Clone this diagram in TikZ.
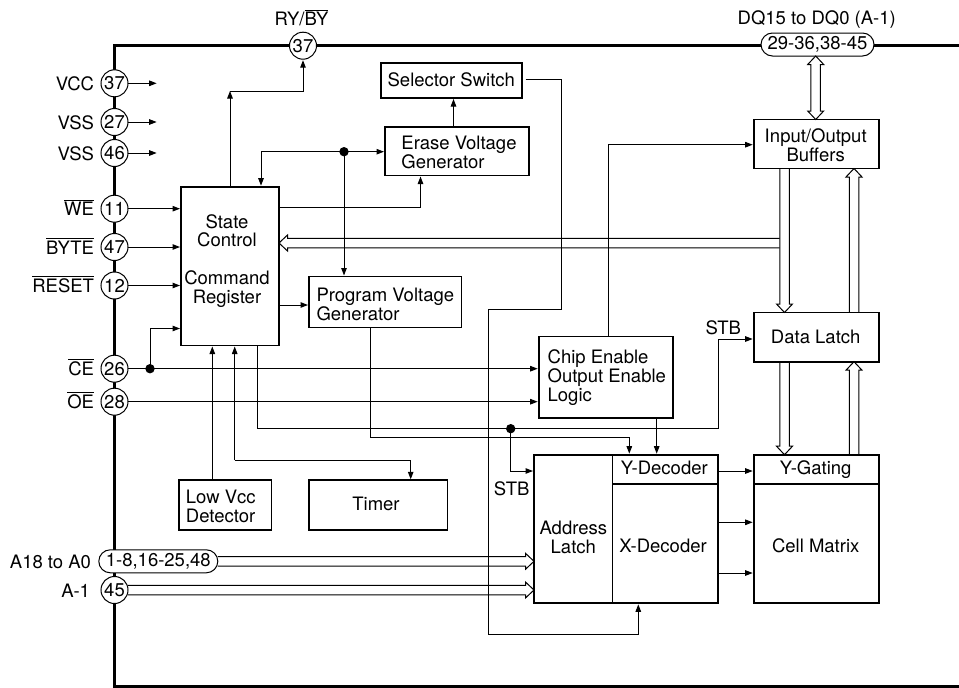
\documentclass[tikz,border=0pt]{standalone}
\usepackage{fontspec}
\setmainfont{TeX Gyre Heros}
\usetikzlibrary{arrows.meta,calc,shapes.misc}
\newcommand\olb[1]{\leavevmode\vbox{\hrule height .8pt \kern 1.6pt \hbox{#1}}}
\tikzset{
  txt/.style={font=\fontsize{18.5}{18.7}\selectfont,inner sep=0pt,outer sep=0pt},
  lbl/.style={txt,anchor=base,align=center},
  lbll/.style={txt,anchor=base,align=left},
  plbl/.style={txt,anchor=base east},
  blk/.style={draw,line width=1.9pt,inner sep=0pt,outer sep=0pt,anchor=north west},
  pinc/.style={txt,circle,draw,fill=white,line width=1pt,minimum size=27pt},
  pill/.style={txt,rounded rectangle,draw,fill=white,line width=1pt,minimum height=23pt},
  frame/.style={line width=2.7pt},
  inner/.style={line width=1.2pt},
  wire/.style={line width=1pt},
  conn/.style={line width=1pt,-{Triangle[length=7.5pt,width=5.5pt]},shorten >=1pt},
  hol/.style={line width=1pt,line join=miter},
}
% box from top-left to bottom-right
\newcommand\bx[5]{\node[blk,minimum width={(#4-#2)*1pt},minimum height={(#5-#3)*1pt}] (#1) at (#2,#3) {};}
% left-hand pin with circle and label
\newcommand\lpin[4]{\node[pinc] (#1) at (114.5,#2) {#3};
  \node[plbl] (#1L) at (94,#2+7) {#4};}
% hollow bus arrow from #1 to tip #2
\newcommand\hollow[2]{%
  \coordinate (hA) at (#1); \coordinate (hB) at (#2);
  \coordinate (hC) at ($(hB)!8.5pt!(hA)$);
  \draw[hol] ($(hA)!4.75pt!90:(hB)$) -- ($(hC)!4.75pt!-90:(hA)$) -- ($(hC)!8pt!-90:(hA)$) -- (hB)
    -- ($(hC)!8pt!90:(hA)$) -- ($(hC)!4.75pt!90:(hA)$) -- ($(hA)!4.75pt!-90:(hB)$);}
% hollow bus arrow with tips at both ends
\newcommand\hollowtwo[2]{%
  \coordinate (hA) at (#1); \coordinate (hB) at (#2);
  \coordinate (hC) at ($(hB)!8.5pt!(hA)$); \coordinate (hD) at ($(hA)!8.5pt!(hB)$);
  \draw[hol] (hA) -- ($(hD)!8pt!90:(hB)$) -- ($(hD)!4.75pt!90:(hB)$) -- ($(hC)!4.75pt!-90:(hA)$) -- ($(hC)!8pt!-90:(hA)$) -- (hB)
    -- ($(hC)!8pt!90:(hA)$) -- ($(hC)!4.75pt!90:(hA)$) -- ($(hD)!4.75pt!-90:(hB)$) -- ($(hD)!8pt!-90:(hB)$) -- cycle;}
\begin{document}
\begin{tikzpicture}[x=1pt,y=-1pt]
\useasboundingbox (0,0) rectangle (959,688);
% frame
\draw[frame] (959,45.7) -- (114.2,45.7) -- (114.2,686.4) -- (959,686.4);

% pins
\node[pinc] (ry) at (303,45.7) {37};
\node[lbl] (ryL) at (301.5,25.7) {RY/\olb{BY}};
\node[pill,minimum width=113pt] (dq) at (817.5,44.5) {29-36,38-45};
\node[lbl] (dqL) at (816.7,24) {DQ15 to DQ0 (A-1)};
\lpin{vcc}{83.3}{37}{VCC}
\lpin{vssa}{122}{27}{VSS}
\lpin{vssb}{153}{46}{VSS}
\lpin{we}{208.7}{11}{\olb{WE}}
\lpin{byte}{247}{47}{\olb{BYTE}}
\lpin{reset}{285.5}{12}{\olb{RESET}}
\lpin{ce}{368.7}{26}{\olb{CE}}
\lpin{oe}{401.7}{28}{\olb{OE}}
\node[pill,minimum width=119pt] (addr) at (158.3,561.3) {1-8,16-25,48};
\node[plbl] (addrL) at (91,568.3) {A18 to A0};
\node[pinc] (am) at (114.5,590) {45};
\node[plbl] (amL) at (90,597) {A-1};

% blocks
\bx{state}{181}{186.7}{279}{345.5}
\node[lbl] (stateT) at (227,303) {State\\Control\\[18.7pt]Command\\Register};
\bx{sel}{381}{63}{522.3}{98}
\node[lbl] (selT) at (451.3,86.3) {Selector Switch};
\bx{erase}{385}{126.7}{529}{175.5}
\node[lbll] (eraseT) at (459,168) {Erase Voltage\\Generator};
\bx{prog}{309}{276.5}{461.5}{327.5}
\node[lbll] (progT) at (385.3,320) {Program Voltage\\Generator};
\bx{iob}{753.7}{119.5}{879}{168.5}
\node[lbl] (iobT) at (815.7,161) {Input/Output\\Buffers};
\bx{dl}{753.7}{312.5}{879}{361.7}
\node[lbl] (dlT) at (815.7,343.3) {Data Latch};
\bx{chip}{538.7}{336.5}{673}{417.7}
\node[lbll] (chipT) at (606.8,401) {Chip Enable\\Output Enable\\Logic};
\bx{low}{179.3}{480.3}{271.5}{530.3}
\node[lbll] (lowT) at (220.8,522) {Low Vcc\\Detector};
\bx{timer}{309}{480.3}{447.5}{530.3}
\node[lbl] (timerT) at (376,510) {Timer};
\bx{adr}{534}{454.7}{717.7}{603.3}
\draw[inner] (612.3,454.7) -- (612.3,603.3) (612.3,484) -- (717.7,484);
\node[lbl] (adrT) at (573.3,553.3) {Address\\Latch};
\node[lbl] (ydT) at (664.3,474) {Y-Decoder};
\node[lbl] (xdT) at (663,552) {X-Decoder};
\bx{cell}{753.7}{454.7}{879}{603.3}
\draw[inner] (753.7,484) -- (879,484);
\node[lbl] (ygT) at (815.7,474) {Y-Gating};
\node[lbl] (cmT) at (815.7,552) {Cell Matrix};
\node[lbl] (stbA) at (723.3,334) {STB};
\node[lbl] (stbB) at (511.7,495) {STB};

% free ends and junctions
\coordinate (vccE) at (156.7,83.3);
\coordinate (vssaE) at (156.7,122);
\coordinate (vssbE) at (156.7,153);
\coordinate (jE) at (344,151.7);
\coordinate (jC) at (150,368.7);
\coordinate (jS) at (510.7,428.7);

% pin arrows
\draw[conn,shorten >=0pt] (vcc.east) -- (vccE);
\draw[conn,shorten >=0pt] (vssa.east) -- (vssaE);
\draw[conn,shorten >=0pt] (vssb.east) -- (vssbE);
\draw[conn] (we.east) -- (state.west |- we.east);
\draw[conn] (byte.east) -- (state.west |- byte.east);
\draw[conn] (reset.east) -- (state.west |- reset.east);
\draw[conn] (ce.east) -- (chip.west |- ce.east);
\draw[conn] (oe.east) -- (chip.west |- oe.east);
\draw[conn] (jC) -- (150,328.5) -- (state.west |- 0,328.5);
\fill (jC) circle (4.7pt);

% state control connectors
\draw[conn,shorten >=0pt] (state.north -| 230,0) -- (230,91);
\draw[conn] (230,91) -| (ry.south);
\draw[conn] (jE) -- (261,151.7) -- (state.north -| 261,0);
\draw[conn] (jE) -- (erase.west |- jE);
\draw[conn] (jE) -- (prog.north -| jE);
\fill (jE) circle (4.7pt);
\draw[conn] (erase.north -| 453.5,0) -- (sel.south -| 453.5,0);
\draw[conn] (state.east |- 0,207.7) -| (erase.south -| 420.5,0);
\draw[conn] (state.east |- 0,305) -- (prog.west |- 0,305);
\draw[conn] (prog.south -| 370.7,0) -- (370.7,437) -- (629.3,437) -- (adr.north -| 629.3,0);
\draw[wire] (state.south -| 257.7,0) -- (257.7,428.7) -- (718.3,428.7) -- (718.3,339);
\draw[conn] (718.3,339) -- (dl.west |- 0,339);
\fill (jS) circle (4.7pt);
\draw[conn] (jS) -- (510.7,471) -- (adr.west |- 0,471);
\draw[conn] (chip.south -| 656.7,0) -- (adr.north -| 656.7,0);
\draw[conn] (chip.north -| 608.3,0) -- (608.3,144.7) -- (iob.west |- 0,144.7);
\draw[conn] (sel.east |- 0,79) ++(3.4,0) -- (561,79) -- (561,309.7) -- (488.3,309.7) -- (488.3,634) -- (638.3,634) -- (adr.south -| 638.3,0);
\draw[conn] (low.north -| 212.3,0) -- (state.south -| 212.3,0);
\draw[conn] (234.7,460) -- (state.south -| 234.7,0);
\draw[conn] (234.7,460) -- (410.7,460) -- (timer.north -| 410.7,0);
\draw[conn] (adr.east |- 0,471) -- (cell.west |- 0,471);
\draw[conn] (adr.east |- 0,522.3) -- (cell.west |- 0,522.3);
\draw[conn] (adr.east |- 0,573) -- (cell.west |- 0,573);

% buses
\hollow{779.7,243}{state.east |- 0,243}
\hollow{addr.east}{adr.west |- addr.east}
\hollow{am.east}{adr.west |- am.east}
\hollowtwo{dq.south -| 815.7,0}{iob.north -| 815.7,0}
\hollow{iob.south -| 784.5,0}{dl.north -| 784.5,0}
\hollow{dl.north -| 854,0}{iob.south -| 854,0}
\hollow{dl.south -| 784.5,0}{cell.north -| 784.5,0}
\hollow{cell.north -| 854,0}{dl.south -| 854,0}
\end{tikzpicture}
\end{document}
